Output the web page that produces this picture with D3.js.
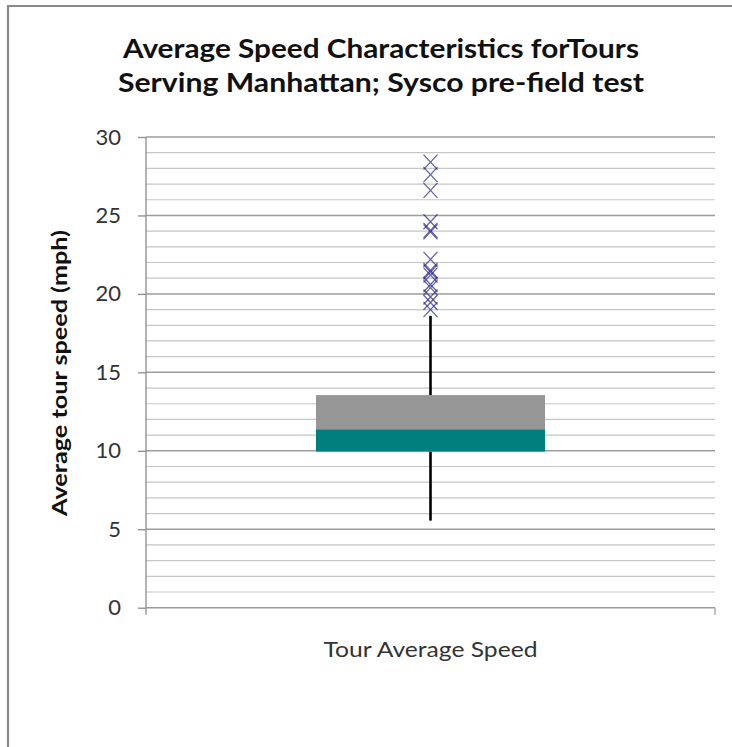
<!DOCTYPE html>
<html>
<head>
<meta charset="utf-8">
<script src="https://cdn.jsdelivr.net/npm/d3@7"></script>
<style>
  html, body { margin: 0; padding: 0; background: #fff; }
  svg { display: block; font-family: Lato, "Open Sans", sans-serif; }
</style>
</head>
<body>
<svg id="chart"></svg>
<script>
// box plot stats, one category
const categories  = ['Tour Average Speed'];
const whiskerLow  = [5.55];
const q1          = [9.95];
const median      = [11.35];
const q3          = [13.55];
const whiskerHigh = [18.6];
const outliers    = [28.4, 27.6, 26.6, 24.6, 24.05, 23.95, 22.2, 21.5, 21.4, 21.2,
                     20.6, 20.4, 19.8, 19.45, 19.0];
const yTicks      = [0, 5, 10, 15, 20, 25, 30];
const titleLines  = ['Average Speed Characteristics forTours', 'Serving Manhattan;  Sysco pre-field test'];

const W = 732, H = 747;
const svg = d3.select('#chart').attr('width', W).attr('height', H);

// cropped chart frame: only top and left edges show
svg.append('path')
    .attr('d', `M8,${H} V6 H${W}`)
    .attr('fill', 'none').attr('stroke', '#8a8a8a').attr('stroke-width', 2.2);

const x = d3.scaleBand().domain(categories).range([146, 715]).padding(0.426);
const y = d3.scaleLinear().domain([0, 30]).range([607.7, 137]);

// gridlines, 1 unit minor, 5 unit major
const g = svg.append('g');
g.selectAll('line.grid')
    .data(d3.range(1, 31))
    .join('line')
    .attr('x1', 146).attr('x2', 715)
    .attr('y1', d => y(d)).attr('y2', d => y(d))
    .attr('stroke', d => d % 5 === 0 ? '#9c9c9c' : '#c6c6c6')
    .attr('stroke-width', d => d % 5 === 0 ? 1.5 : 1.2);

// y axis
const yAxis = svg.append('g')
    .attr('transform', 'translate(146,0)')
    .call(d3.axisLeft(y).tickValues(yTicks).tickSize(8).tickPadding(17));
yAxis.select('.domain').remove();
yAxis.selectAll('.tick line').attr('stroke', '#8c8c8c').attr('stroke-width', 1.3);
yAxis.selectAll('.tick text')
    .attr('font-family', 'Lato, sans-serif')
    .attr('font-size', 22).attr('fill', '#333');
svg.append('line')
    .attr('x1', 146).attr('x2', 146).attr('y1', y(30)).attr('y2', y(0) + 7)
    .attr('stroke', '#8c8c8c').attr('stroke-width', 1.3);

// x axis line with end tick
svg.append('line')
    .attr('x1', 146).attr('x2', 715).attr('y1', y(0)).attr('y2', y(0))
    .attr('stroke', '#9c9c9c').attr('stroke-width', 1.5);
svg.append('line')
    .attr('x1', 715).attr('x2', 715).attr('y1', y(0)).attr('y2', y(0) + 7)
    .attr('stroke', '#9c9c9c').attr('stroke-width', 1.3);

// box + whiskers
categories.forEach((c, i) => {
    const cx = x(c) + x.bandwidth() / 2;
    [[whiskerLow[i], q1[i]], [q3[i], whiskerHigh[i]]].forEach(([a, b]) => {
        svg.append('line')
            .attr('x1', cx).attr('x2', cx)
            .attr('y1', y(a)).attr('y2', y(b))
            .attr('stroke', '#000').attr('stroke-width', 2.6);
    });
    svg.append('rect')
        .attr('x', x(c)).attr('width', x.bandwidth())
        .attr('y', y(q3[i])).attr('height', y(median[i]) - y(q3[i]) + 0.5)
        .attr('fill', '#969696');
    svg.append('rect')
        .attr('x', x(c)).attr('width', x.bandwidth())
        .attr('y', y(median[i])).attr('height', y(q1[i]) - y(median[i]))
        .attr('fill', '#007f7f');

    const sx = 7, sy = 7.5;
    svg.append('g').selectAll('path')
        .data(outliers)
        .join('path')
        .attr('d', d => `M${cx - sx},${y(d) - sy}L${cx + sx},${y(d) + sy}M${cx - sx},${y(d) + sy}L${cx + sx},${y(d) - sy}`)
        .attr('stroke', '#25258c').attr('stroke-width', 1.3)
        .attr('stroke-opacity', 0.72).attr('fill', 'none');
});

// titles
svg.selectAll('text.title')
    .data(titleLines)
    .join('text')
    .attr('class', 'title')
    .attr('x', 381).attr('y', (d, i) => 58 + i * 33.5)
    .attr('text-anchor', 'middle')
    .attr('font-size', 27).attr('font-weight', 700).attr('fill', '#111')
    .attr('textLength', (d, i) => i ? 526 : 516)
    .attr('lengthAdjust', 'spacingAndGlyphs')
    .text(d => d);

svg.append('text')
    .attr('transform', 'translate(67,373) rotate(-90)')
    .attr('text-anchor', 'middle')
    .attr('font-size', 21.5).attr('font-weight', 700).attr('fill', '#111')
    .attr('textLength', 286).attr('lengthAdjust', 'spacingAndGlyphs')
    .text('Average tour speed (mph)');

svg.append('text')
    .attr('x', x(categories[0]) + x.bandwidth() / 2).attr('y', 657)
    .attr('text-anchor', 'middle')
    .attr('font-size', 21).attr('fill', '#333')
    .attr('textLength', 214).attr('lengthAdjust', 'spacingAndGlyphs')
    .text(categories[0]);
</script>
</body>
</html>
